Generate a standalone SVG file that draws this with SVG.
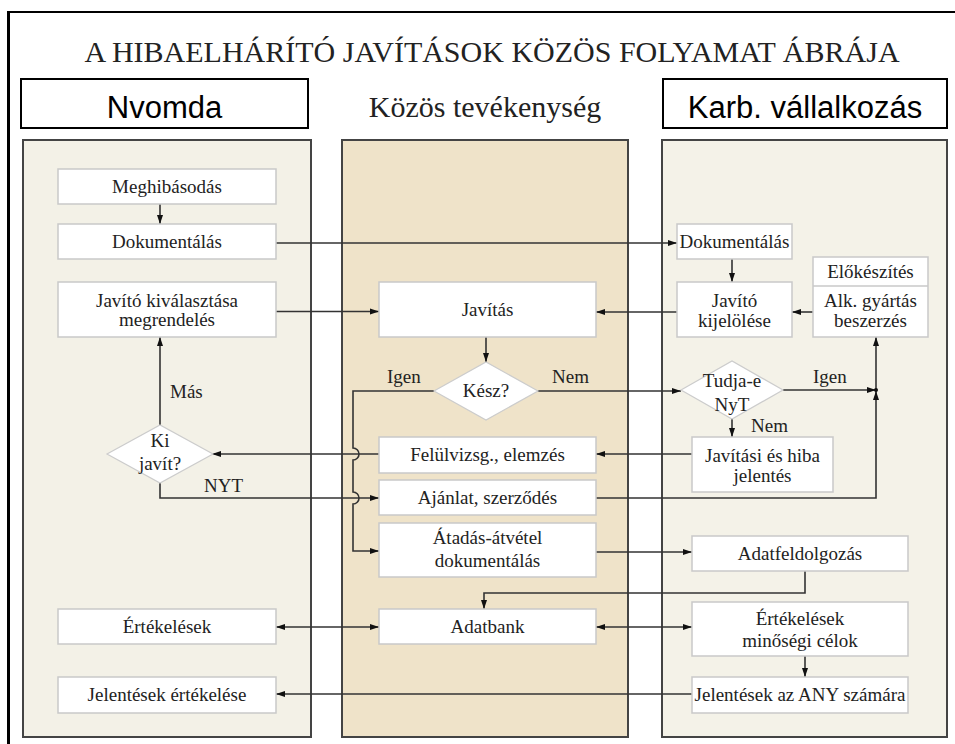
<svg xmlns="http://www.w3.org/2000/svg" width="955" height="744" viewBox="0 0 955 744">
<style>
.t{font-family:"Liberation Serif","Times New Roman",serif;font-size:19px;fill:#222;text-anchor:middle}
.l{font-family:"Liberation Serif","Times New Roman",serif;font-size:19px;fill:#222}
.h{font-family:"Liberation Sans",Arial,sans-serif;font-size:31px;fill:#000;text-anchor:middle}
.lane{stroke:#444;stroke-width:2}
.box{fill:#fff;stroke:#c9c9c9;stroke-width:1.5}
.c{fill:none;stroke:#333;stroke-width:1.6}
.a{marker-end:url(#ah)}
.b{marker-start:url(#ah);marker-end:url(#ah)}
</style>
<defs>
<marker id="ah" markerUnits="userSpaceOnUse" markerWidth="9" markerHeight="7" refX="9" refY="3.5" orient="auto-start-reverse">
<path d="M0,0.5 L9,3.5 L0,6.5 z" fill="#111"/>
</marker>
</defs>
<rect width="955" height="744" fill="#fff"/>
<g id="frame">
<path d="M7,12 H955" stroke="#000" stroke-width="2"/>
<path d="M8.5,11 V744" stroke="#000" stroke-width="3"/>
</g>
<text x="492" y="62" style="font-family:'Liberation Serif','Times New Roman',serif;font-size:30px;fill:#222;text-anchor:middle">A HIBAELHÁRÍTÓ JAVÍTÁSOK KÖZÖS FOLYAMAT ÁBRÁJA</text>
<g id="header-nyomda">
<rect x="21" y="79" width="287" height="49" fill="#fff" stroke="#000" stroke-width="2"/>
<text class="h" x="164.5" y="118">Nvomda</text>
</g>
<g id="header-kozos">
<text x="485" y="117" style="font-family:'Liberation Serif','Times New Roman',serif;font-size:30px;fill:#222;text-anchor:middle">Közös tevékenység</text>
</g>
<g id="header-karb">
<rect x="663" y="79" width="284" height="49" fill="#fff" stroke="#000" stroke-width="2"/>
<text class="h" x="805" y="118">Karb. vállalkozás</text>
</g>
<g id="lanes">
<rect id="lane-left" class="lane" x="23" y="140" width="288" height="597" fill="#f3f1e7"/>
<rect id="lane-center" class="lane" x="342" y="140" width="286" height="597" fill="#efe3c9"/>
<rect id="lane-right" class="lane" x="662" y="140" width="285" height="597" fill="#f4f2e8"/>
</g>
<g id="connectors">
<path class="c a" d="M160,204 V224"/>
<path class="c a" d="M276,243 H677"/>
<path class="c a" d="M276,311.5 H379"/>
<path class="c a" d="M677,312 H596"/>
<path class="c a" d="M732,259 V282"/>
<path class="c a" d="M813,312 H792"/>
<path class="c a" d="M486,337 V362"/>
<path class="c a" d="M537,391 H681"/>
<path class="c a" d="M434,391 H353 V448 A6,6 0 0 1 353,460 V492 A6,6 0 0 1 353,504 V551 H379"/>
<path class="c a" d="M783,390 H876"/>
<path class="c a" d="M876,390 V337"/>
<path class="c a" d="M596,498 H876 V391"/>
<circle cx="876" cy="390" r="2" fill="#111"/>
<path class="c a" d="M732,419 V437"/>
<path class="c a" d="M692,454 H596"/>
<path class="c a" d="M379,454 H212"/>
<path class="c a" d="M160,425 V337"/>
<path class="c a" d="M160,483 V498 H379"/>
<path class="c a" d="M596,552 H692"/>
<path class="c a" d="M805,571 V593 H484 V609"/>
<path class="c b" d="M276,627 H379"/>
<path class="c b" d="M596,627 H692"/>
<path class="c a" d="M805,656 V677"/>
<path class="c a" d="M692,694 H276"/>
<text class="l" x="170" y="398">Más</text>
<text class="l" x="204" y="492">NYT</text>
<text class="l" x="387" y="383">Igen</text>
<text class="l" x="552" y="383">Nem</text>
<text class="l" x="813" y="383">Igen</text>
<text class="l" x="751" y="432">Nem</text>
</g>
<g id="n-meghibasodas"><rect class="box" x="58" y="169" width="218" height="35"/><text class="t" x="167" y="193">Meghibásodás</text></g>
<g id="n-dok-left"><rect class="box" x="58" y="224" width="218" height="35"/><text class="t" x="167" y="248">Dokumentálás</text></g>
<g id="n-javito-kiv"><rect class="box" x="58" y="282" width="218" height="55"/><text class="t" x="167" y="307">Javító kiválasztása</text><text class="t" x="167" y="326">megrendelés</text></g>
<g id="n-ki-javit"><path d="M107,454 L160,425 L213,454 L160,483 z" fill="#fff" stroke="#ccc" stroke-width="1.2"/><text class="t" x="160" y="447">Ki</text><text class="t" x="160" y="470">javít?</text></g>
<g id="n-ertekelesek"><rect class="box" x="58" y="609" width="218" height="35"/><text class="t" x="167" y="633">Értékelések</text></g>
<g id="n-jel-ert"><rect class="box" x="58" y="677" width="218" height="36"/><text class="t" x="167" y="701">Jelentések értékelése</text></g>
<g id="n-javitas"><rect class="box" x="379" y="282" width="217" height="55"/><text class="t" x="487.5" y="316">Javítás</text></g>
<g id="n-kesz"><path d="M434,391 L486,362 L538,391 L486,420 z" fill="#fff" stroke="#ccc" stroke-width="1.2"/><text class="t" x="486" y="397">Kész?</text></g>
<g id="n-felulvizsg"><rect class="box" x="379" y="437" width="217" height="36"/><text class="t" x="487.5" y="461">Felülvizsg., elemzés</text></g>
<g id="n-ajanlat"><rect class="box" x="379" y="480" width="217" height="35"/><text class="t" x="487.5" y="504">Ajánlat, szerződés</text></g>
<g id="n-atadas"><rect class="box" x="379" y="523" width="217" height="54"/><text class="t" x="487.5" y="544">Átadás-átvétel</text><text class="t" x="487.5" y="567">dokumentálás</text></g>
<g id="n-adatbank"><rect class="box" x="379" y="609" width="217" height="35"/><text class="t" x="487.5" y="633">Adatbank</text></g>
<g id="n-dok-right"><rect class="box" x="677" y="224" width="115" height="35"/><text class="t" x="734.5" y="248">Dokumentálás</text></g>
<g id="n-javito-kij"><rect class="box" x="677" y="282" width="115" height="55"/><text class="t" x="734.5" y="307">Javító</text><text class="t" x="734.5" y="327">kijelölése</text></g>
<g id="n-elokeszites"><rect class="box" x="813" y="257" width="115" height="80"/><path d="M813,286 H928" stroke="#c9c9c9" stroke-width="1.5"/><text class="t" x="870.5" y="278">Előkészítés</text><text class="t" x="870.5" y="307">Alk. gyártás</text><text class="t" x="870.5" y="327">beszerzés</text></g>
<g id="n-tudja"><path d="M681,390 L732,361 L783,390 L732,419 z" fill="#fff" stroke="#ccc" stroke-width="1.2"/><text class="t" x="732" y="387">Tudja-e</text><text class="t" x="732" y="411">NyT</text></g>
<g id="n-javitasi"><rect class="box" x="692" y="437" width="141" height="55"/><text class="t" x="762.5" y="462">Javítási és hiba</text><text class="t" x="762.5" y="482">jelentés</text></g>
<g id="n-adatfeld"><rect class="box" x="692" y="536" width="216" height="35"/><text class="t" x="800" y="560">Adatfeldolgozás</text></g>
<g id="n-ert-min"><rect class="box" x="692" y="602" width="216" height="54"/><text class="t" x="800" y="625">Értékelések</text><text class="t" x="800" y="647">minőségi célok</text></g>
<g id="n-jel-any"><rect class="box" x="692" y="677" width="216" height="36"/><text class="t" x="800" y="701">Jelentések az ANY számára</text></g>
</svg>
